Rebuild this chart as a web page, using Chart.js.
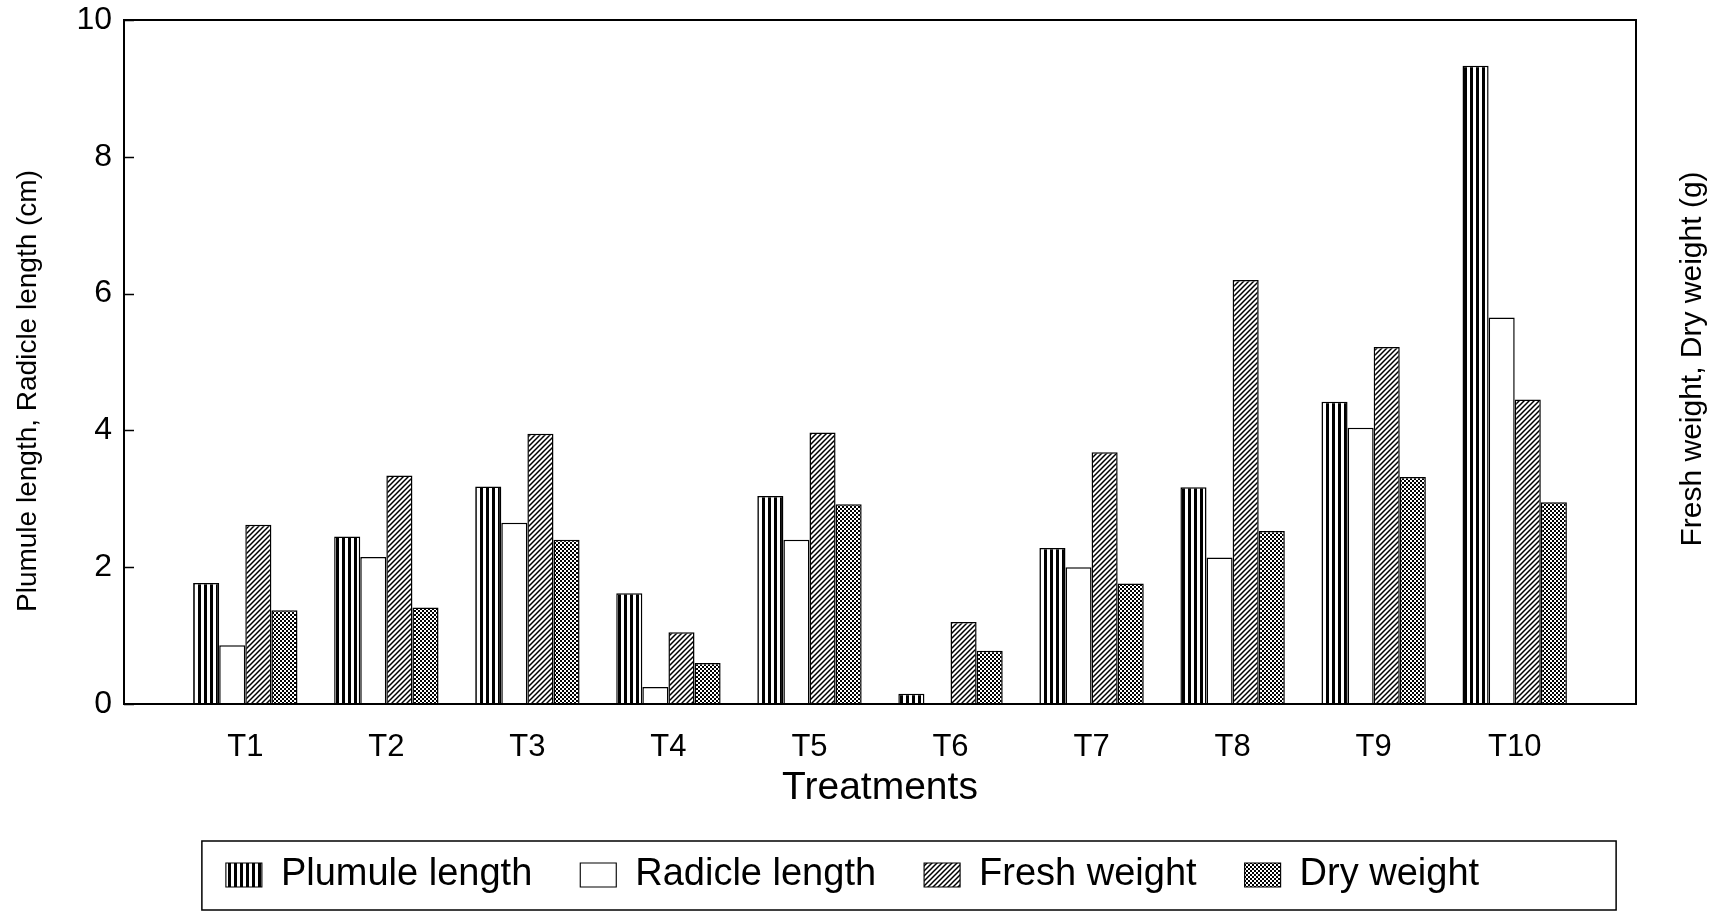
<!DOCTYPE html>
<html>
<head>
<meta charset="utf-8">
<script src="https://cdn.jsdelivr.net/npm/chart.js@4.4.1/dist/chart.umd.min.js"></script>
<style>
  html, body { margin: 0; padding: 0; background: #fff; }
</style>
</head>
<body>
<canvas id="chart" width="1715" height="917"></canvas>
<script>
const treatments = ['T1', 'T2', 'T3', 'T4', 'T5', 'T6', 'T7', 'T8', 'T9', 'T10'];
const plumuleLength = [1.77, 2.45, 3.18, 1.62, 3.04, 0.15, 2.28, 3.17, 4.42, 9.33];
const radicleLength = [0.86, 2.15, 2.65, 0.25, 2.40, 0, 2.00, 2.14, 4.04, 5.65];
const freshWeight = [2.62, 3.34, 3.95, 1.05, 3.97, 1.20, 3.68, 6.20, 5.22, 4.45];
const dryWeight = [1.37, 1.41, 2.40, 0.60, 2.92, 0.78, 1.76, 2.53, 3.32, 2.95];
const yTicks = [0, 2, 4, 6, 8, 10];
const leftTitle = 'Plumule length, Radicle length (cm)';
const rightTitle = 'Fresh weight, Dry weight (g)';

const FONT = "'Liberation Sans', Arial, Helvetica, sans-serif";
Chart.defaults.color = '#000';
Chart.defaults.font.family = FONT;

// little canvas patterns for the b/w fills
const makePattern = (size, draw) => {
  const c = document.createElement('canvas');
  c.width = size; c.height = size;
  const g = c.getContext('2d');
  g.fillStyle = '#fff';
  g.fillRect(0, 0, size, size);
  g.fillStyle = '#000';
  g.strokeStyle = '#000';
  draw(g, size);
  return g.createPattern(c, 'repeat');
};
const ctx = document.getElementById('chart').getContext('2d');

const stripes = makePattern(6, (g) => { g.fillRect(0, 0, 3, 6); });
const hatch = makePattern(5, (g, s) => {
  g.lineWidth = 1.5;
  g.beginPath();
  g.moveTo(-1, s + 1); g.lineTo(s + 1, -1);
  g.moveTo(-1, 1); g.lineTo(1, -1);
  g.moveTo(s - 1, s + 1); g.lineTo(s + 1, s - 1);
  g.stroke();
});
const checker = makePattern(4, (g) => {
  g.fillRect(0, 0, 2, 2);
  g.fillRect(2, 2, 2, 2);
});

const toXY = (arr) => arr.map((v, i) => ({ x: i + 1, y: v }));

const barStyle = {
  borderColor: '#000',
  borderWidth: { top: 1.5, left: 1.5, right: 1.5, bottom: 0 },
  borderSkipped: 'bottom',
  categoryPercentage: 0.74,
  barPercentage: 1.0
};

// box round the plot, plus the short inward ticks on the left axis
const frame = {
  id: 'frame',
  afterDatasetsDraw(chart) {
    const { ctx, chartArea: a } = chart;
    const ys = chart.scales.y;
    ctx.save();
    ctx.strokeStyle = '#000';
    ctx.lineWidth = 2;
    ctx.strokeRect(a.left, a.top, a.right - a.left, a.bottom - a.top);
    ctx.lineWidth = 1.5;
    ctx.beginPath();
    ys.ticks.forEach((t) => {
      const py = Math.round(ys.getPixelForValue(t.value)) + 0.5;
      ctx.moveTo(a.left, py);
      ctx.lineTo(a.left + 10, py);
    });
    ctx.stroke();
    ctx.restore();
  }
};

// both axis titles read bottom-to-top in the original
const axisTitles = {
  id: 'axisTitles',
  afterDraw(chart) {
    const { ctx, chartArea: a } = chart;
    const mid = (a.top + a.bottom) / 2;
    const put = (text, x, y, size) => {
      ctx.save();
      ctx.translate(x, y);
      ctx.rotate(-Math.PI / 2);
      ctx.font = size + 'px ' + FONT;
      ctx.fillStyle = '#000';
      ctx.textAlign = 'center';
      ctx.textBaseline = 'middle';
      ctx.fillText(text, 0, 0);
      ctx.restore();
    };
    put(leftTitle, 28, mid + 29, 28);
    put(rightTitle, chart.width - 22, mid - 3, 30);
  }
};

const legendBox = {
  id: 'legendBox',
  afterDraw(chart) {
    const hb = chart.legend.legendHitBoxes;
    if (!hb || !hb.length) return;
    const first = hb[0], last = hb[hb.length - 1];
    const cy = first.top + first.height / 2;
    const c = chart.ctx;
    c.save();
    c.strokeStyle = '#000';
    c.lineWidth = 1.5;
    c.strokeRect(first.left - 24, cy - 34, (last.left + last.width + 137) - (first.left - 24), 69);
    c.restore();
  }
};

const chart = new Chart(ctx, {
  type: 'bar',
  data: {
    datasets: [
      { label: 'Plumule length', data: toXY(plumuleLength), backgroundColor: stripes, yAxisID: 'y', ...barStyle },
      { label: 'Radicle length', data: toXY(radicleLength), backgroundColor: '#fff', yAxisID: 'y', ...barStyle },
      { label: 'Fresh weight', data: toXY(freshWeight), backgroundColor: hatch, yAxisID: 'y1', ...barStyle },
      { label: 'Dry weight', data: toXY(dryWeight), backgroundColor: checker, yAxisID: 'y1', ...barStyle }
    ]
  },
  options: {
    responsive: false,
    animation: false,
    layout: { padding: { top: 20, left: 0, right: 10, bottom: 13 } },
    plugins: {
      tooltip: { enabled: false },
      legend: {
        position: 'bottom',
        labels: {
          color: '#000',
          font: { size: 38, family: FONT },
          boxWidth: 36,
          boxHeight: 24,
          padding: 48
        }
      }
    },
    scales: {
      x: {
        type: 'linear',
        min: 0.14,
        max: 10.86,
        offset: false,
        afterBuildTicks: (s) => { s.ticks = treatments.map((_, i) => ({ value: i + 1 })); },
        afterFit: (s) => { s.height = 104; },
        grid: { display: false, drawTicks: false },
        border: { display: false },
        ticks: {
          font: { size: 31 },
          padding: 25,
          maxRotation: 0,
          autoSkip: false,
          callback: (v) => treatments[Math.round(v) - 1] || ''
        },
        title: { display: true, text: 'Treatments', font: { size: 39, lineHeight: 1 }, padding: { top: 0, bottom: 0 } }
      },
      y: {
        position: 'left',
        min: 0,
        max: 10,
        afterBuildTicks: (s) => { s.ticks = yTicks.map((v) => ({ value: v })); },
        afterFit: (s) => { s.width = 124; s.paddingTop = 0; s.paddingBottom = 0; },
        grid: { display: false, drawTicks: false },
        border: { display: false },
        ticks: { font: { size: 32 }, padding: 12 }
      },
      y1: {
        position: 'right',
        min: 0,
        max: 10,
        afterFit: (s) => { s.width = 69; s.paddingTop = 0; s.paddingBottom = 0; },
        grid: { display: false, drawTicks: false },
        border: { display: false },
        ticks: { display: false }
      }
    }
  },
  plugins: [frame, axisTitles, legendBox]
});
</script>
</body>
</html>
